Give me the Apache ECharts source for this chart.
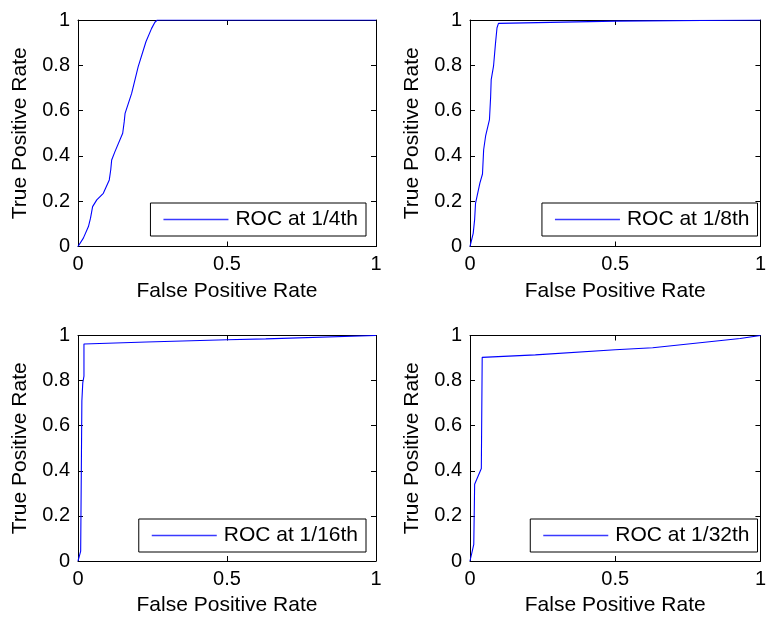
<!DOCTYPE html>
<html>
<head>
<meta charset="utf-8">
<script src="https://cdn.jsdelivr.net/npm/echarts@6/dist/echarts.min.js"></script>
<style>
html,body{margin:0;padding:0;background:#fff;}
#chart{width:769px;height:617px;}
</style>
</head>
<body>
<div id="chart"></div>
<script>
// ---- data ----
const seriesNames = ['ROC at 1/4th', 'ROC at 1/8th', 'ROC at 1/16th', 'ROC at 1/32th'];
const xAxisTitle = 'False Positive Rate';
const yAxisTitle = 'True Positive Rate';

const fpr1 = [0, 0.018, 0.035, 0.042, 0.049, 0.063, 0.085, 0.105, 0.110, 0.113, 0.124, 0.150, 0.155, 0.158, 0.180, 0.202, 0.228, 0.247, 0.258, 0.266, 0.5, 1];
const tpr1 = [0, 0.037, 0.088, 0.125, 0.176, 0.206, 0.235, 0.294, 0.340, 0.382, 0.419, 0.500, 0.550, 0.588, 0.676, 0.794, 0.904, 0.963, 0.990, 1.0, 1.0, 1.0];

const fpr2 = [0, 0.011, 0.016, 0.019, 0.034, 0.043, 0.047, 0.054, 0.067, 0.071, 0.073, 0.081, 0.088, 0.093, 0.098, 0.103, 0.5, 1];
const tpr2 = [0, 0.058, 0.120, 0.190, 0.280, 0.320, 0.427, 0.490, 0.560, 0.660, 0.737, 0.796, 0.900, 0.966, 0.985, 0.990, 0.995, 1];

const fpr3 = [0, 0.009, 0.013, 0.016, 0.020, 0.020, 0.23, 0.5, 0.63, 1];
const tpr3 = [0, 0.044, 0.710, 0.790, 0.820, 0.962, 0.971, 0.981, 0.985, 1];

const fpr4 = [0, 0.013, 0.016, 0.039, 0.042, 0.042, 0.225, 0.5, 0.629, 0.93, 1];
const tpr4 = [0, 0.074, 0.340, 0.410, 0.413, 0.903, 0.914, 0.937, 0.946, 0.987, 1];

const allFpr = [fpr1, fpr2, fpr3, fpr4];
const allTpr = [tpr1, tpr2, tpr3, tpr4];

// ---- layout ----
const FONT = '"Liberation Sans", Arial, Helvetica, sans-serif';
const BLUE = '#0000ff';
const grids = [
  {left: 78, top: 20, width: 298, height: 226.5},
  {left: 470, top: 20, width: 297, height: 226.5},
  {left: 78, top: 335.5, width: 298, height: 226.5},
  {left: 470, top: 335.5, width: 297, height: 226.5}
];
const legendPos = [
  {right: 403, top: 203},
  {right: 11.5, top: 203},
  {right: 403, top: 519},
  {right: 11.5, top: 519}
];

const xAxes = [], yAxes = [], series = [], legends = [];
grids.forEach((g, i) => {
  const common = {
    gridIndex: i, type: 'value', min: 0, max: 1,
    axisLine: {show: true, onZero: false, lineStyle: {color: '#000', width: 1}},
    axisTick: {show: true, inside: true, length: 5, lineStyle: {color: '#000'}},
    splitLine: {show: false}
  };
  xAxes.push(Object.assign({}, common, {
    position: 'bottom', interval: 0.5,
    axisLabel: {show: true, color: '#000', fontSize: 20, fontFamily: FONT, margin: 8},
    name: xAxisTitle, nameLocation: 'middle', nameGap: 34,
    nameTextStyle: {color: '#000', fontSize: 21, fontFamily: FONT}
  }));
  xAxes.push(Object.assign({}, common, {
    position: 'top', interval: 0.5, axisLabel: {show: false}
  }));
  yAxes.push(Object.assign({}, common, {
    position: 'left', interval: 0.2,
    axisLabel: {show: true, color: '#000', fontSize: 20, fontFamily: FONT, margin: 8},
    name: yAxisTitle, nameLocation: 'middle', nameGap: 47,
    nameTextStyle: {color: '#000', fontSize: 21, fontFamily: FONT}
  }));
  yAxes.push(Object.assign({}, common, {
    position: 'right', interval: 0.2, axisLabel: {show: false}
  }));
  series.push({
    name: seriesNames[i], type: 'line',
    xAxisIndex: 2 * i, yAxisIndex: 2 * i,
    data: allFpr[i].map((x, k) => [x, allTpr[i][k]]),
    showSymbol: false, symbol: 'none',
    color: BLUE,
    lineStyle: {color: BLUE, width: 1.1},
    itemStyle: {color: BLUE}
  });
  legends.push(Object.assign({
    data: [{name: seriesNames[i], icon: 'path://M0,0H65V1.3H0Z', itemStyle: {color: '#3a3aff', borderWidth: 0}}],
    orient: 'horizontal',
    backgroundColor: '#fff', borderColor: '#000', borderWidth: 1,
    borderRadius: 0, padding: [6, 8, 6, 13],
    itemWidth: 65, itemHeight: 1.3, itemGap: 0,
    itemStyle: {color: '#3a3aff', borderWidth: 0},
    lineStyle: {color: '#3a3aff'},
    textStyle: {color: '#000', fontSize: 21, fontFamily: FONT, padding: [0, 0, 0, 2]}
  }, legendPos[i]));
});

const chart = echarts.init(document.getElementById('chart'), null, {renderer: 'canvas'});
chart.setOption({
  animation: false,
  backgroundColor: '#fff',
  color: [BLUE],
  grid: grids,
  xAxis: xAxes,
  yAxis: yAxes,
  legend: legends,
  series: series
});
</script>
</body>
</html>
